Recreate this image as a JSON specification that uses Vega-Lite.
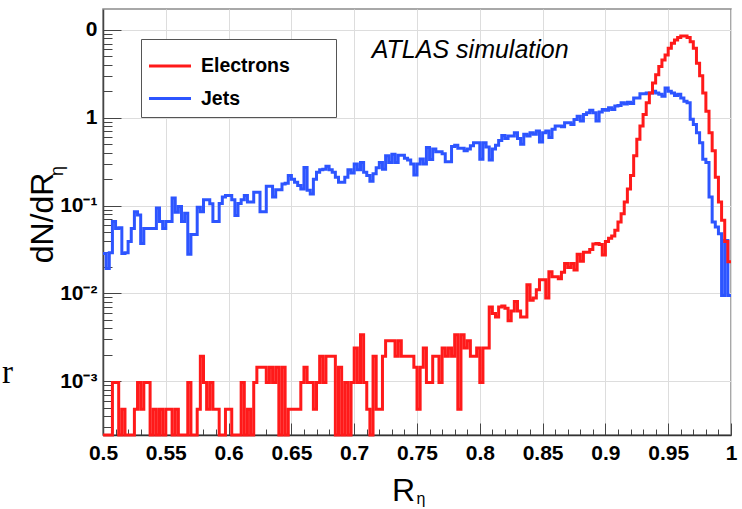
{
  "$schema": "https://vega.github.io/schema/vega-lite/v6.json",
  "width": 628,
  "height": 426,
  "autosize": "none",
  "padding": {"left": 103, "top": 9, "right": 11, "bottom": 74},
  "background": "white",
  "config": {
    "view": {"stroke": "#8c8c8c", "strokeWidth": 1.5},
    "font": "Liberation Sans",
    "axis": {"labelOverlap": false, "labelFlush": false}
  },
  "datasets": {
    "hist": [
      {"R": 0.5, "electrons": 0.000245, "jets": 0.0285},
      {"R": 0.5025, "electrons": 0.000245, "jets": 0.0193},
      {"R": 0.505, "electrons": 0.000245, "jets": 0.029},
      {"R": 0.5075, "electrons": 0.00097, "jets": 0.066},
      {"R": 0.51, "electrons": 0.00097, "jets": 0.055},
      {"R": 0.5125, "electrons": 0.000245, "jets": 0.056},
      {"R": 0.515, "electrons": 0.00048, "jets": 0.0285},
      {"R": 0.5175, "electrons": 0.000245, "jets": 0.029},
      {"R": 0.52, "electrons": 0.000245, "jets": 0.039},
      {"R": 0.5225, "electrons": 0.000245, "jets": 0.055},
      {"R": 0.525, "electrons": 0.00048, "jets": 0.085},
      {"R": 0.5275, "electrons": 0.00097, "jets": 0.078},
      {"R": 0.53, "electrons": 0.00048, "jets": 0.037},
      {"R": 0.5325, "electrons": 0.00097, "jets": 0.055},
      {"R": 0.535, "electrons": 0.00097, "jets": 0.055},
      {"R": 0.5375, "electrons": 0.000245, "jets": 0.055},
      {"R": 0.54, "electrons": 0.00048, "jets": 0.055},
      {"R": 0.5425, "electrons": 0.000245, "jets": 0.094},
      {"R": 0.545, "electrons": 0.00048, "jets": 0.066},
      {"R": 0.5475, "electrons": 0.000245, "jets": 0.055},
      {"R": 0.55, "electrons": 0.00048, "jets": 0.066},
      {"R": 0.5525, "electrons": 0.00048, "jets": 0.066},
      {"R": 0.555, "electrons": 0.000245, "jets": 0.122},
      {"R": 0.5575, "electrons": 0.00048, "jets": 0.084},
      {"R": 0.56, "electrons": 0.000245, "jets": 0.098},
      {"R": 0.5625, "electrons": 0.000245, "jets": 0.066},
      {"R": 0.565, "electrons": 0.000245, "jets": 0.082},
      {"R": 0.5675, "electrons": 0.00097, "jets": 0.028},
      {"R": 0.57, "electrons": 0.000245, "jets": 0.047},
      {"R": 0.5725, "electrons": 0.000245, "jets": 0.047},
      {"R": 0.575, "electrons": 0.00048, "jets": 0.096},
      {"R": 0.5775, "electrons": 0.00193, "jets": 0.085},
      {"R": 0.58, "electrons": 0.00097, "jets": 0.117},
      {"R": 0.5825, "electrons": 0.00048, "jets": 0.117},
      {"R": 0.585, "electrons": 0.00097, "jets": 0.105},
      {"R": 0.5875, "electrons": 0.00048, "jets": 0.066},
      {"R": 0.59, "electrons": 0.00048, "jets": 0.066},
      {"R": 0.5925, "electrons": 0.000245, "jets": 0.106},
      {"R": 0.595, "electrons": 0.000245, "jets": 0.125},
      {"R": 0.5975, "electrons": 0.00048, "jets": 0.13},
      {"R": 0.6, "electrons": 0.00048, "jets": 0.13},
      {"R": 0.6025, "electrons": 0.000245, "jets": 0.117},
      {"R": 0.605, "electrons": 0.000245, "jets": 0.077},
      {"R": 0.6075, "electrons": 0.000245, "jets": 0.106},
      {"R": 0.61, "electrons": 0.00097, "jets": 0.117},
      {"R": 0.6125, "electrons": 0.000245, "jets": 0.13},
      {"R": 0.615, "electrons": 0.00048, "jets": 0.11},
      {"R": 0.6175, "electrons": 0.000245, "jets": 0.11},
      {"R": 0.62, "electrons": 0.00097, "jets": 0.142},
      {"R": 0.6225, "electrons": 0.00145, "jets": 0.142},
      {"R": 0.625, "electrons": 0.00145, "jets": 0.085},
      {"R": 0.6275, "electrons": 0.00145, "jets": 0.085},
      {"R": 0.63, "electrons": 0.00097, "jets": 0.166},
      {"R": 0.6325, "electrons": 0.00145, "jets": 0.166},
      {"R": 0.635, "electrons": 0.00097, "jets": 0.125},
      {"R": 0.6375, "electrons": 0.00145, "jets": 0.152},
      {"R": 0.64, "electrons": 0.000245, "jets": 0.152},
      {"R": 0.6425, "electrons": 0.00145, "jets": 0.176},
      {"R": 0.645, "electrons": 0.000245, "jets": 0.18},
      {"R": 0.6475, "electrons": 0.00048, "jets": 0.22},
      {"R": 0.65, "electrons": 0.00048, "jets": 0.2},
      {"R": 0.6525, "electrons": 0.00048, "jets": 0.184},
      {"R": 0.655, "electrons": 0.00048, "jets": 0.17},
      {"R": 0.6575, "electrons": 0.00097, "jets": 0.155},
      {"R": 0.66, "electrons": 0.00145, "jets": 0.272},
      {"R": 0.6625, "electrons": 0.00097, "jets": 0.15},
      {"R": 0.665, "electrons": 0.00097, "jets": 0.136},
      {"R": 0.6675, "electrons": 0.00048, "jets": 0.2},
      {"R": 0.67, "electrons": 0.00097, "jets": 0.24},
      {"R": 0.6725, "electrons": 0.00193, "jets": 0.256},
      {"R": 0.675, "electrons": 0.00097, "jets": 0.26},
      {"R": 0.6775, "electrons": 0.00193, "jets": 0.28},
      {"R": 0.68, "electrons": 0.00193, "jets": 0.256},
      {"R": 0.6825, "electrons": 0.00193, "jets": 0.24},
      {"R": 0.685, "electrons": 0.000245, "jets": 0.21},
      {"R": 0.6875, "electrons": 0.00145, "jets": 0.184},
      {"R": 0.69, "electrons": 0.000245, "jets": 0.184},
      {"R": 0.6925, "electrons": 0.00097, "jets": 0.21},
      {"R": 0.695, "electrons": 0.000245, "jets": 0.256},
      {"R": 0.6975, "electrons": 0.00097, "jets": 0.235},
      {"R": 0.7, "electrons": 0.0024, "jets": 0.297},
      {"R": 0.7025, "electrons": 0.00097, "jets": 0.256},
      {"R": 0.705, "electrons": 0.0034, "jets": 0.31},
      {"R": 0.7075, "electrons": 0.00097, "jets": 0.24},
      {"R": 0.71, "electrons": 0.00048, "jets": 0.22},
      {"R": 0.7125, "electrons": 0.000245, "jets": 0.19},
      {"R": 0.715, "electrons": 0.00193, "jets": 0.23},
      {"R": 0.7175, "electrons": 0.00048, "jets": 0.27},
      {"R": 0.72, "electrons": 0.00048, "jets": 0.31},
      {"R": 0.7225, "electrons": 0.00193, "jets": 0.26},
      {"R": 0.725, "electrons": 0.0029, "jets": 0.37},
      {"R": 0.7275, "electrons": 0.0029, "jets": 0.31},
      {"R": 0.73, "electrons": 0.0029, "jets": 0.385},
      {"R": 0.7325, "electrons": 0.00193, "jets": 0.31},
      {"R": 0.735, "electrons": 0.0029, "jets": 0.375},
      {"R": 0.7375, "electrons": 0.00193, "jets": 0.375},
      {"R": 0.74, "electrons": 0.00193, "jets": 0.345},
      {"R": 0.7425, "electrons": 0.00193, "jets": 0.33},
      {"R": 0.745, "electrons": 0.00193, "jets": 0.297},
      {"R": 0.7475, "electrons": 0.00145, "jets": 0.223},
      {"R": 0.75, "electrons": 0.00048, "jets": 0.297},
      {"R": 0.7525, "electrons": 0.00145, "jets": 0.34},
      {"R": 0.755, "electrons": 0.0024, "jets": 0.297},
      {"R": 0.7575, "electrons": 0.00097, "jets": 0.458},
      {"R": 0.76, "electrons": 0.00097, "jets": 0.335},
      {"R": 0.7625, "electrons": 0.00193, "jets": 0.44},
      {"R": 0.765, "electrons": 0.00193, "jets": 0.41},
      {"R": 0.7675, "electrons": 0.00097, "jets": 0.41},
      {"R": 0.77, "electrons": 0.0024, "jets": 0.39},
      {"R": 0.7725, "electrons": 0.00193, "jets": 0.316},
      {"R": 0.775, "electrons": 0.0024, "jets": 0.316},
      {"R": 0.7775, "electrons": 0.00193, "jets": 0.47},
      {"R": 0.78, "electrons": 0.0034, "jets": 0.486},
      {"R": 0.7825, "electrons": 0.00048, "jets": 0.45},
      {"R": 0.785, "electrons": 0.0034, "jets": 0.45},
      {"R": 0.7875, "electrons": 0.0024, "jets": 0.42},
      {"R": 0.79, "electrons": 0.0029, "jets": 0.44},
      {"R": 0.7925, "electrons": 0.00193, "jets": 0.48},
      {"R": 0.795, "electrons": 0.00193, "jets": 0.52},
      {"R": 0.7975, "electrons": 0.0024, "jets": 0.52},
      {"R": 0.8, "electrons": 0.00097, "jets": 0.338},
      {"R": 0.8025, "electrons": 0.0024, "jets": 0.52},
      {"R": 0.805, "electrons": 0.0024, "jets": 0.465},
      {"R": 0.8075, "electrons": 0.007, "jets": 0.33},
      {"R": 0.81, "electrons": 0.0059, "jets": 0.44},
      {"R": 0.8125, "electrons": 0.0054, "jets": 0.486},
      {"R": 0.815, "electrons": 0.007, "jets": 0.55},
      {"R": 0.8175, "electrons": 0.0072, "jets": 0.63},
      {"R": 0.82, "electrons": 0.0068, "jets": 0.58},
      {"R": 0.8225, "electrons": 0.0049, "jets": 0.62},
      {"R": 0.825, "electrons": 0.0063, "jets": 0.62},
      {"R": 0.8275, "electrons": 0.0081, "jets": 0.677},
      {"R": 0.83, "electrons": 0.0063, "jets": 0.58},
      {"R": 0.8325, "electrons": 0.0054, "jets": 0.5},
      {"R": 0.835, "electrons": 0.0054, "jets": 0.65},
      {"R": 0.8375, "electrons": 0.0126, "jets": 0.62},
      {"R": 0.84, "electrons": 0.0084, "jets": 0.677},
      {"R": 0.8425, "electrons": 0.0089, "jets": 0.65},
      {"R": 0.845, "electrons": 0.011, "jets": 0.707},
      {"R": 0.8475, "electrons": 0.0143, "jets": 0.53},
      {"R": 0.85, "electrons": 0.0143, "jets": 0.677},
      {"R": 0.8525, "electrons": 0.0089, "jets": 0.707},
      {"R": 0.855, "electrons": 0.0177, "jets": 0.595},
      {"R": 0.8575, "electrons": 0.0155, "jets": 0.738},
      {"R": 0.86, "electrons": 0.0155, "jets": 0.806},
      {"R": 0.8625, "electrons": 0.0147, "jets": 0.806},
      {"R": 0.865, "electrons": 0.0175, "jets": 0.79},
      {"R": 0.8675, "electrons": 0.0219, "jets": 0.878},
      {"R": 0.87, "electrons": 0.0197, "jets": 0.878},
      {"R": 0.8725, "electrons": 0.0219, "jets": 0.84},
      {"R": 0.875, "electrons": 0.0185, "jets": 0.957},
      {"R": 0.8775, "electrons": 0.0279, "jets": 1.04},
      {"R": 0.88, "electrons": 0.0232, "jets": 0.917},
      {"R": 0.8825, "electrons": 0.0294, "jets": 1.09},
      {"R": 0.885, "electrons": 0.0294, "jets": 1.14},
      {"R": 0.8875, "electrons": 0.0316, "jets": 1.22},
      {"R": 0.89, "electrons": 0.0365, "jets": 1.14},
      {"R": 0.8925, "electrons": 0.037, "jets": 0.917},
      {"R": 0.895, "electrons": 0.036, "jets": 1.16},
      {"R": 0.8975, "electrons": 0.0275, "jets": 1.24},
      {"R": 0.9, "electrons": 0.039, "jets": 1.22},
      {"R": 0.9025, "electrons": 0.0425, "jets": 1.3},
      {"R": 0.905, "electrons": 0.045, "jets": 1.24},
      {"R": 0.9075, "electrons": 0.0525, "jets": 1.36},
      {"R": 0.91, "electrons": 0.065, "jets": 1.38},
      {"R": 0.9125, "electrons": 0.081, "jets": 1.48},
      {"R": 0.915, "electrons": 0.11, "jets": 1.43},
      {"R": 0.9175, "electrons": 0.155, "jets": 1.5},
      {"R": 0.92, "electrons": 0.22, "jets": 1.45},
      {"R": 0.9225, "electrons": 0.37, "jets": 1.68},
      {"R": 0.925, "electrons": 0.569, "jets": 1.68},
      {"R": 0.9275, "electrons": 0.806, "jets": 1.88},
      {"R": 0.93, "electrons": 1.09, "jets": 1.88},
      {"R": 0.9325, "electrons": 1.48, "jets": 1.92},
      {"R": 0.935, "electrons": 1.92, "jets": 1.92},
      {"R": 0.9375, "electrons": 2.49, "jets": 2.0},
      {"R": 0.94, "electrons": 3.09, "jets": 1.92},
      {"R": 0.9425, "electrons": 3.84, "jets": 1.85},
      {"R": 0.945, "electrons": 4.55, "jets": 1.76},
      {"R": 0.9475, "electrons": 5.19, "jets": 2.18},
      {"R": 0.95, "electrons": 6.17, "jets": 2.0},
      {"R": 0.9525, "electrons": 7.03, "jets": 1.92},
      {"R": 0.955, "electrons": 7.67, "jets": 1.79},
      {"R": 0.9575, "electrons": 8.22, "jets": 1.85},
      {"R": 0.96, "electrons": 8.5, "jets": 1.68},
      {"R": 0.9625, "electrons": 8.5, "jets": 1.54},
      {"R": 0.965, "electrons": 8.22, "jets": 1.48},
      {"R": 0.9675, "electrons": 7.35, "jets": 0.96},
      {"R": 0.97, "electrons": 6.17, "jets": 0.84},
      {"R": 0.9725, "electrons": 4.18, "jets": 0.677},
      {"R": 0.975, "electrons": 3.0, "jets": 0.52},
      {"R": 0.9775, "electrons": 1.92, "jets": 0.338},
      {"R": 0.98, "electrons": 1.19, "jets": 0.31},
      {"R": 0.9825, "electrons": 0.677, "jets": 0.125},
      {"R": 0.985, "electrons": 0.42, "jets": 0.065},
      {"R": 0.9875, "electrons": 0.21, "jets": 0.057},
      {"R": 0.99, "electrons": 0.11, "jets": 0.048},
      {"R": 0.9925, "electrons": 0.068, "jets": 0.0095},
      {"R": 0.995, "electrons": 0.039, "jets": 0.04},
      {"R": 0.9975, "electrons": 0.023, "jets": 0.0095},
      {"R": 1.0, "electrons": 0.023, "jets": 0.0095}
    ],
    "notes": [
      {"note": "ATLAS simulation"},
      {"note": "η"},
      {"note": "r"}
    ]
  },
  "encoding": {
    "x": {
      "type": "quantitative",
      "scale": {"type": "linear", "domain": [0.5, 1], "nice": false, "zero": false},
      "axis": {
        "title": "R",
        "titleFont": "Liberation Sans",
        "titleFontSize": 32,
        "titleFontWeight": "normal",
        "titleColor": "black",
        "titleAlign": "center",
        "titleBaseline": "alphabetic",
        "titleX": 300,
        "titleY": 65,
        "values": [0.5, 0.51, 0.52, 0.53, 0.54, 0.55, 0.56, 0.57, 0.58, 0.59, 0.6, 0.61, 0.62, 0.63, 0.64, 0.65, 0.66, 0.67, 0.68, 0.69, 0.7, 0.71, 0.72, 0.73, 0.74, 0.75, 0.76, 0.77, 0.78, 0.79, 0.8, 0.81, 0.82, 0.83, 0.84, 0.85, 0.86, 0.87, 0.88, 0.89, 0.9, 0.91, 0.92, 0.93, 0.94, 0.95, 0.96, 0.97, 0.98, 0.99, 1],
        "labelExpr": "abs(datum.value * 20 - round(datum.value * 20)) < 0.001 ? '' + round(datum.value * 100) / 100 : ''",
        "labelFont": "Liberation Sans",
        "labelFontWeight": "bold",
        "labelFontSize": 21,
        "labelColor": "black",
        "labelPadding": 19,
        "labelOverlap": false,
        "labelFlush": false,
        "tickSize": {"condition": {"test": "abs(datum.value * 20 - round(datum.value * 20)) < 0.001", "value": -12}, "value": -6},
        "tickColor": "#444",
        "tickWidth": 1,
        "grid": true,
        "gridColor": "#dddddd",
        "gridWidth": 1,
        "gridOpacity": {"condition": {"test": "abs(datum.value * 20 - round(datum.value * 20)) < 0.001", "value": 1}, "value": 0},
        "domainColor": "#333",
        "domainWidth": 1.5
      }
    },
    "y": {
      "type": "quantitative",
      "scale": {"type": "log", "domain": [0.000245, 17.3], "nice": false},
      "axis": {
        "title": "dN/dR",
        "titleFont": "Liberation Sans",
        "titleFontSize": 32,
        "titleFontWeight": "normal",
        "titleColor": "black",
        "titleAngle": -90,
        "titleAlign": "center",
        "titleBaseline": "alphabetic",
        "titleX": -51,
        "titleY": 208.5,
        "values": [0.0003, 0.0004, 0.0005, 0.0006, 0.0007, 0.0008, 0.0009, 0.001, 0.002, 0.003, 0.004, 0.005, 0.006, 0.007, 0.008, 0.009, 0.01, 0.02, 0.03, 0.04, 0.05, 0.06, 0.07, 0.08, 0.09, 0.1, 0.2, 0.3, 0.4, 0.5, 0.6, 0.7, 0.8, 0.9, 1, 2, 3, 4, 5, 6, 7, 8, 9, 10],
        "labelExpr": "datum.value == 10 ? '0' : datum.value == 1 ? '1' : datum.value == 0.1 ? '10⁻¹' : datum.value == 0.01 ? '10⁻²' : datum.value == 0.001 ? '10⁻³' : ''",
        "labelFont": "Liberation Sans",
        "labelFontWeight": "bold",
        "labelFontSize": 21,
        "labelColor": "black",
        "labelPadding": 24,
        "labelOverlap": false,
        "labelFlush": false,
        "tickSize": {"condition": {"test": "abs(log(datum.value) / LN10 - round(log(datum.value) / LN10)) < 0.001", "value": -18}, "value": -9},
        "tickColor": "#444",
        "tickWidth": 1,
        "grid": true,
        "gridColor": "#dddddd",
        "gridWidth": 1,
        "gridOpacity": {"condition": {"test": "abs(log(datum.value) / LN10 - round(log(datum.value) / LN10)) < 0.001", "value": 1}, "value": 0},
        "domainColor": "#444",
        "domainWidth": 1.5
      }
    }
  },
  "layer": [
    {
      "data": {"name": "hist"},
      "mark": {"type": "line", "interpolate": "step-after", "strokeWidth": 3},
      "encoding": {
        "x": {"field": "R"},
        "y": {"field": "jets"},
        "color": {
          "datum": "Jets",
          "type": "nominal",
          "scale": {"domain": ["Electrons", "Jets"], "range": ["#ff1a1a", "#2d55ff"]},
          "legend": {
            "title": null,
            "orient": "none",
            "legendX": 38,
            "legendY": 30,
            "symbolType": "M-1.273,0L1.273,0",
            "symbolSize": 1089,
            "symbolStrokeWidth": 3,
            "symbolOffset": 2,
            "labelFont": "Liberation Sans",
            "labelFontWeight": "bold",
            "labelFontSize": 19.5,
            "labelColor": "black",
            "labelOffset": 13,
            "labelExpr": "datum.label + '\u2003\u2002\u2009\u2009\u200b'",
            "rowPadding": 4.5,
            "padding": 9,
            "strokeColor": "#555",
            "fillColor": "white"
          }
        }
      }
    },
    {
      "data": {"name": "hist"},
      "mark": {"type": "line", "interpolate": "step-after", "strokeWidth": 3},
      "encoding": {
        "x": {"field": "R"},
        "y": {"field": "electrons"},
        "color": {"datum": "Electrons", "type": "nominal"}
      }
    },
    {
      "data": {"name": "notes"},
      "transform": [{"filter": "datum.note == 'ATLAS simulation'"}],
      "mark": {"type": "text", "font": "Liberation Sans", "fontStyle": "italic", "fontSize": 25, "align": "left", "baseline": "alphabetic", "fill": "black"},
      "encoding": {
        "x": {"datum": 0.714},
        "y": {"datum": 4.76},
        "text": {"field": "note"}
      }
    },
    {
      "data": {"name": "notes"},
      "transform": [{"filter": "datum.note == 'η'"}],
      "mark": {"type": "text", "font": "Liberation Sans", "fontSize": 18, "align": "center", "baseline": "middle", "angle": 270, "fill": "black"},
      "encoding": {
        "x": {"datum": 0.4642},
        "y": {"datum": 0.248},
        "text": {"field": "note"}
      }
    },
    {
      "data": {"name": "notes"},
      "transform": [{"filter": "datum.note == 'η'"}],
      "mark": {"type": "text", "font": "Liberation Sans", "fontSize": 16, "align": "center", "baseline": "middle", "fill": "black"},
      "encoding": {
        "x": {"datum": 0.7532},
        "y": {"datum": 0.000046},
        "text": {"field": "note"}
      }
    },
    {
      "data": {"name": "notes"},
      "transform": [{"filter": "datum.note == 'r'"}],
      "mark": {"type": "text", "font": "Liberation Serif", "fontSize": 33, "align": "left", "baseline": "alphabetic", "fill": "black"},
      "encoding": {
        "x": {"datum": 0.4196},
        "y": {"datum": 0.00096},
        "text": {"field": "note"}
      }
    }
  ]
}
